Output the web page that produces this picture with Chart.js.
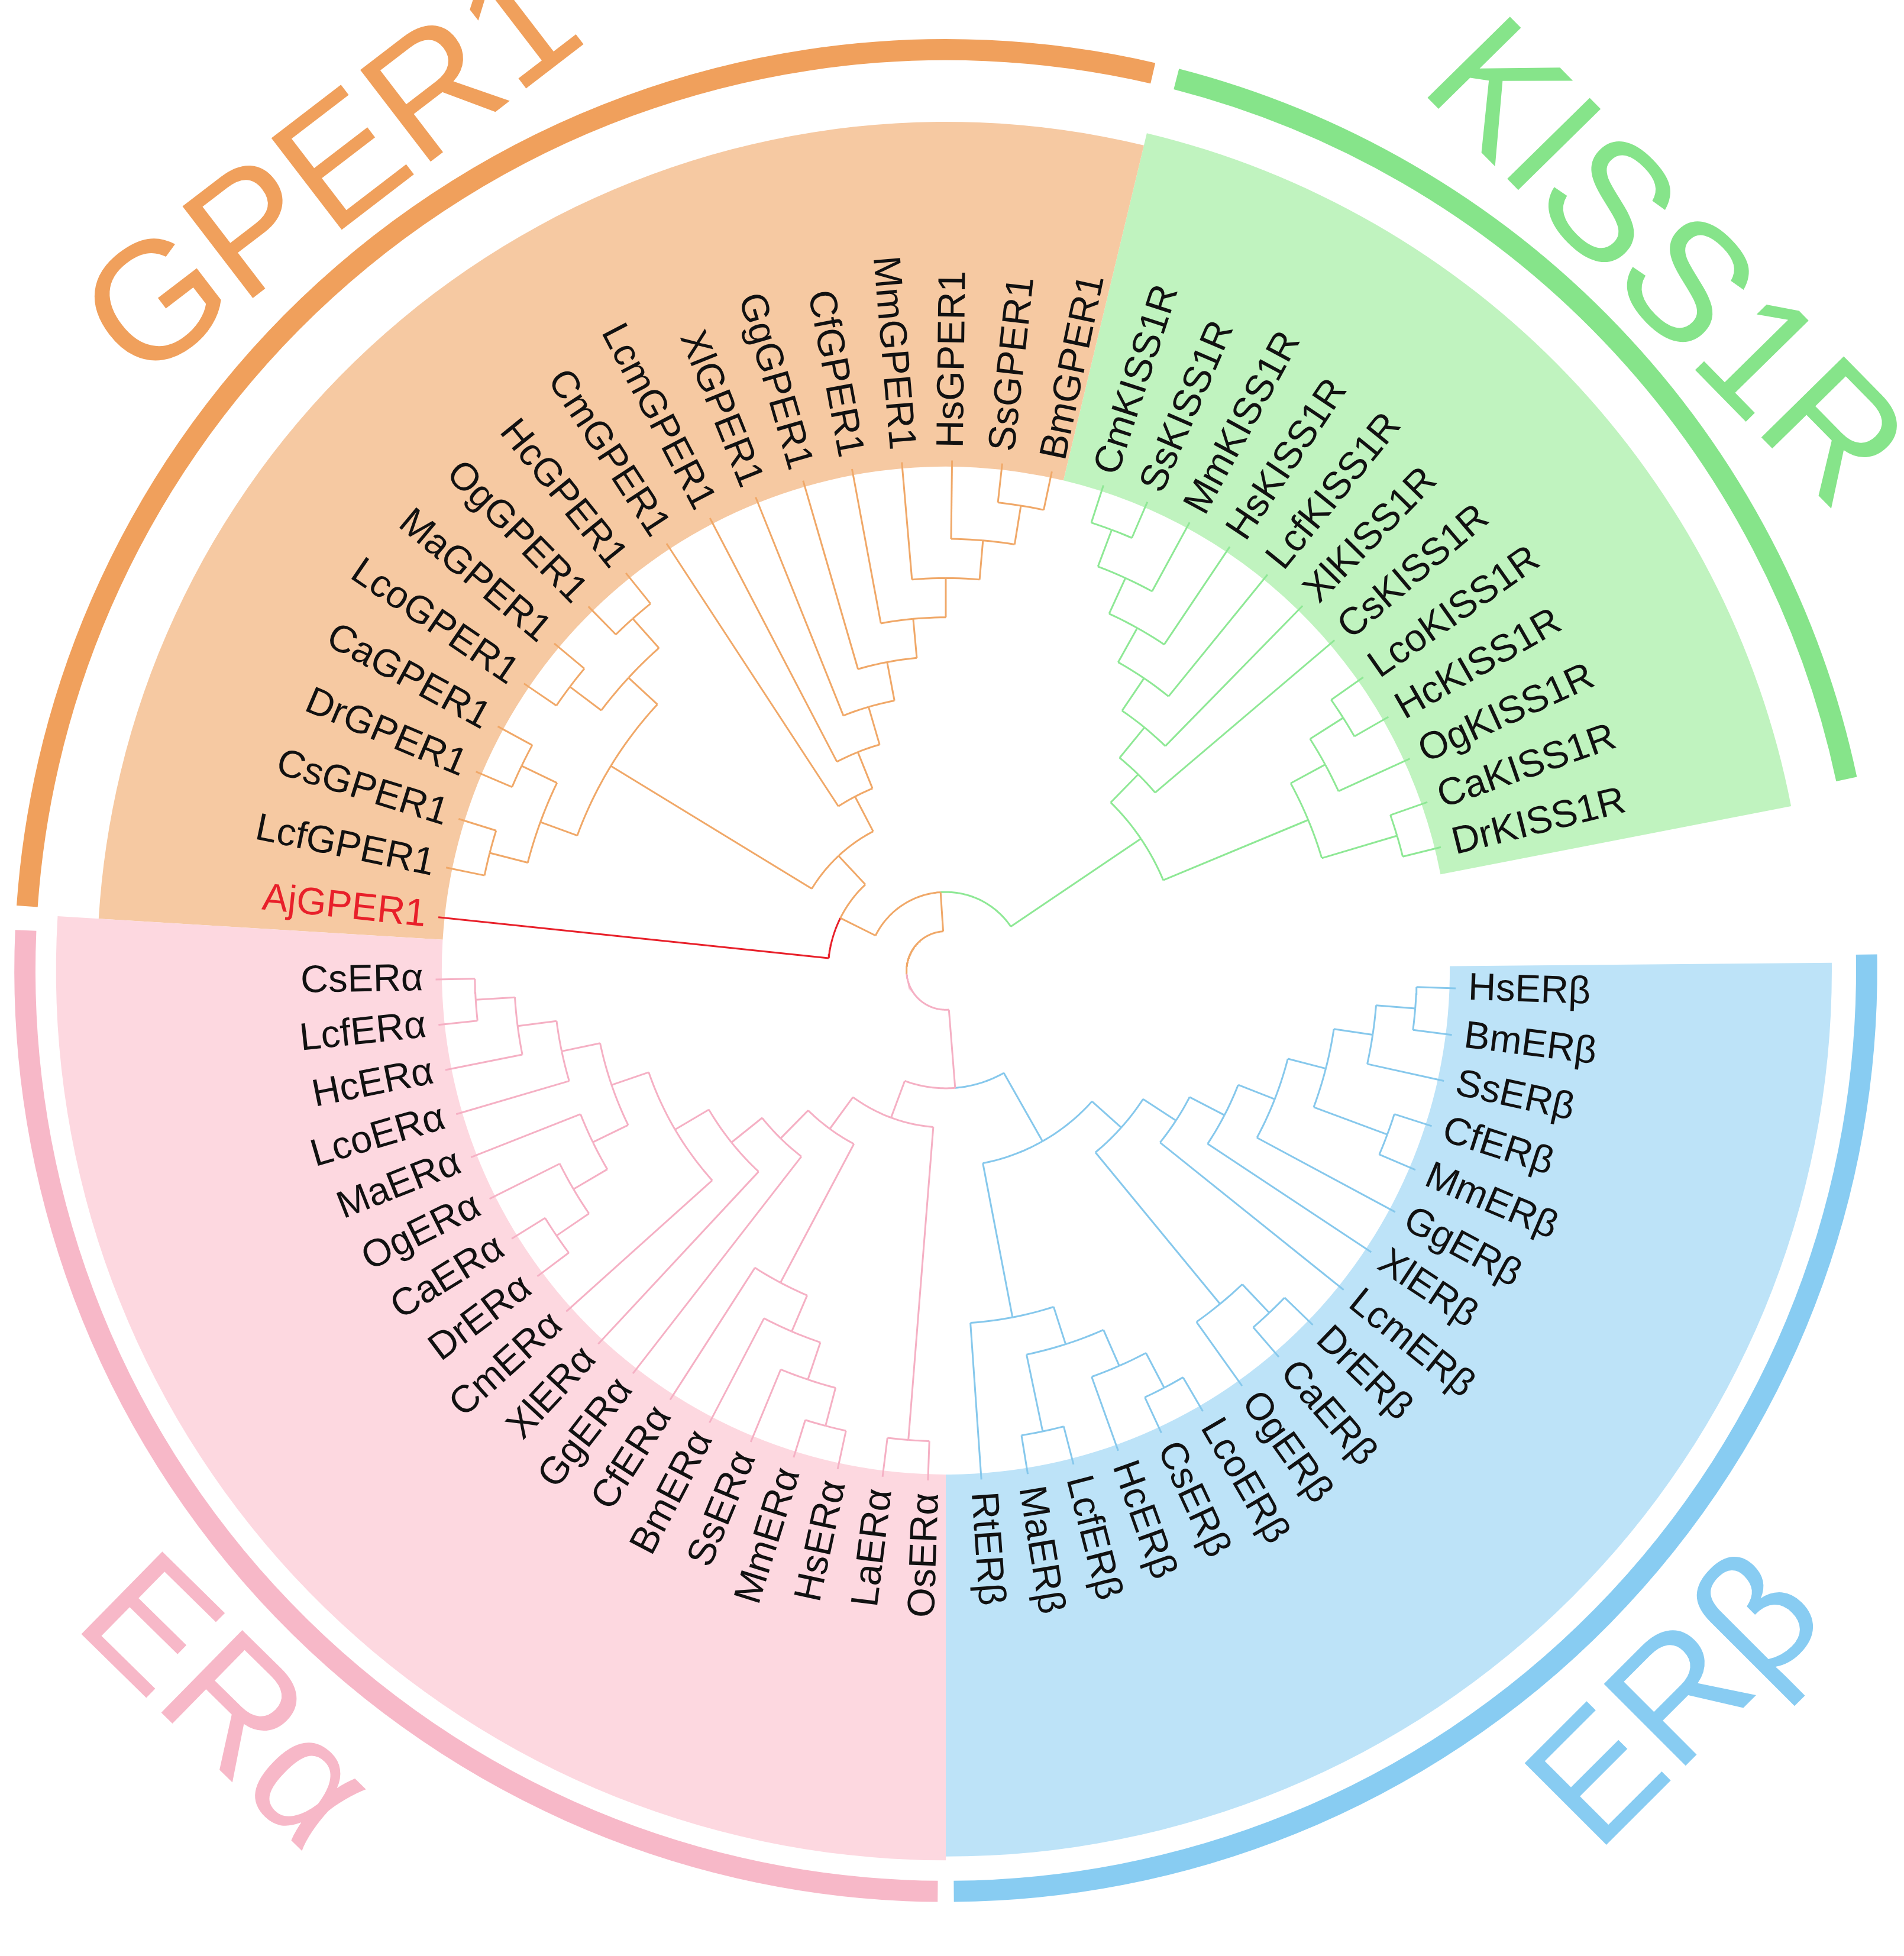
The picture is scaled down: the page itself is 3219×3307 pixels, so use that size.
<!DOCTYPE html>
<html>
<head>
<meta charset="utf-8">
<script src="https://cdn.jsdelivr.net/npm/chart.js@4"></script>
<style>
  html, body { margin: 0; padding: 0; background: #fff; }
  #wrap { width: 3219px; height: 3307px; }
</style>
</head>
<body>
<div id="wrap"><canvas id="myChart"></canvas></div>
<script>
// Leaf order of each clade (counter-clockwise)
var kissLeaves = ['DrKISS1R','CaKISS1R','OgKISS1R','HcKISS1R','LcoKISS1R','CsKISS1R','XlKISS1R','LcfKISS1R','HsKISS1R','MmKISS1R','SsKISS1R','CmKISS1R'];
var gperLeaves = ['BmGPER1','SsGPER1','HsGPER1','MmGPER1','CfGPER1','GgGPER1','XlGPER1','LcmGPER1','CmGPER1','HcGPER1','OgGPER1','MaGPER1','LcoGPER1','CaGPER1','DrGPER1','CsGPER1','LcfGPER1','AjGPER1'];
var eraLeaves = ['CsERα','LcfERα','HcERα','LcoERα','MaERα','OgERα','CaERα','DrERα','CmERα','XlERα','GgERα','CfERα','BmERα','SsERα','MmERα','HsERα','LaERα','OsERα'];
var erbLeaves = ['RtERβ','MaERβ','LcfERβ','HcERβ','CsERβ','LcoERβ','OgERβ','CaERβ','DrERβ','LcmERβ','XlERβ','GgERβ','MmERβ','CfERβ','SsERβ','BmERβ','HsERβ'];

// Tree topology (nested pairs)
var kissTree = [[['DrKISS1R','CaKISS1R'],['OgKISS1R',['HcKISS1R','LcoKISS1R']]],['CsKISS1R',['XlKISS1R',['LcfKISS1R',['HsKISS1R',['MmKISS1R',['SsKISS1R','CmKISS1R']]]]]]];
var gperTetra = [[[[[[[['BmGPER1','SsGPER1'],'HsGPER1'],'MmGPER1'],'CfGPER1'],'GgGPER1'],'XlGPER1'],'LcmGPER1'],'CmGPER1'];
var gperFish = [[['HcGPER1','OgGPER1'],['MaGPER1','LcoGPER1']],[['CaGPER1','DrGPER1'],['CsGPER1','LcfGPER1']]];
var gperTree = [[gperTetra, gperFish], 'AjGPER1'];
var eraFish = [[[['CsERα','LcfERα'],'HcERα'],'LcoERα'],['MaERα',['OgERα',['CaERα','DrERα']]]];
var eraTetra = ['CfERα',['BmERα',['SsERα',['MmERα','HsERα']]]];
var eraTree = [[[[[eraFish,'CmERα'],'XlERα'],'GgERα'],eraTetra],['LaERα','OsERα']];
var erbA = ['RtERβ',[['MaERβ','LcfERβ'],['HcERβ',['CsERβ','LcoERβ']]]];
var erbB = [['OgERβ',['CaERβ','DrERβ']],['LcmERβ',['XlERβ',['GgERβ',[['MmERβ','CfERβ'],['SsERβ',['BmERβ','HsERβ']]]]]]];
var erbTree = [erbA, erbB];
var rootTree = [[kissTree, gperTree], [eraTree, erbTree]];

var highlight = 'AjGPER1';

// Layout / style
var clades = [
  {leaves: kissLeaves, a0: 14, a1: 72, line: '#8ee895', fill: '#c0f3bf', ring: '#86e48a', title: 'KISS1R', tA: 44.5, tR: 805, ringA: [12, 75.5], wedge: [11, 76.5, 692]},
  {leaves: gperLeaves, a0: 78, a1: 174, line: '#f0a868', fill: '#f6c9a2', ring: '#f0a05c', title: 'GPER1', tA: 127.5, tR: 805, ringA: [77, 176], wedge: [76.5, 176.5, 682]},
  {leaves: eraLeaves, a0: 181, a1: 268, line: '#f5b0c4', fill: '#fdd8e0', ring: '#f7b8c8', title: 'ERα', tA: 225.5, tR: 830, ringA: [177.5, 269.5], wedge: [176.5, 270, 715]},
  {leaves: erbLeaves, a0: 274, a1: 358, line: '#86c8ec', fill: '#bde3f8', ring: '#88ccf2', title: 'ERβ', tA: 315, tR: 835, ringA: [270.5, 361], wedge: [270, 360.5, 712]}
];
var R_TIP = 410, R_LAB = 420, R_IN = 405, R_RING = 740;

var leafAngle = {}, leafClade = {};
clades.forEach(function (c, ci) {
  var step = (c.a1 - c.a0) / (c.leaves.length - 1);
  c.leaves.forEach(function (n, i) { leafAngle[n] = c.a0 + i * step; leafClade[n] = ci; });
});

function rad(d) { return d * Math.PI / 180; }
function pol(r, a) { return {x: r * Math.cos(rad(a)), y: r * Math.sin(rad(a))}; }

// compute node info
function info(node) {
  if (typeof node === 'string') return {leaf: node, angle: leafAngle[node], h: 0, clades: [leafClade[node]], kids: []};
  var kids = node.map(info);
  var h = Math.max.apply(null, kids.map(function (k) { return k.h; })) + 1;
  var cl = [];
  kids.forEach(function (k) { k.clades.forEach(function (c) { if (cl.indexOf(c) < 0) cl.push(c); }); });
  return {angle: (kids[0].angle + kids[kids.length - 1].angle) / 2, h: h, clades: cl, kids: kids};
}
var root = info(rootTree);
var stepR = R_TIP / (root.h + 1);
function radiusOf(n) { return n.leaf ? R_TIP : R_TIP - n.h * stepR; }
function colorOf(n) {
  if (n.leaf === highlight) return '#e8202a';
  if (n.clades.length === 1) return clades[n.clades[0]].line;
  return n.clades.indexOf(1) >= 0 ? clades[1].line : clades[2].line;
}

var datasets = [];
function seg(pts, color) {
  datasets.push({data: pts, showLine: true, borderColor: color, borderWidth: 3, pointRadius: 0, fill: false, tension: 0});
}
function walk(n) {
  var r = radiusOf(n);
  n.kids.forEach(function (k) {
    var col = colorOf(k);
    var a0 = n.angle, a1 = k.angle, pts = [];
    var steps = Math.max(2, Math.ceil(Math.abs(a1 - a0)));
    for (var i = 0; i <= steps; i++) pts.push(pol(r, a0 + (a1 - a0) * i / steps));
    seg(pts, col);
    seg([pol(r, k.angle), pol(radiusOf(k), k.angle)], col);
    walk(k);
  });
}
walk(root);

var decor = {
  id: 'decor',
  beforeDatasetsDraw: function (chart) {
    var ctx = chart.ctx, xs = chart.scales.x, ys = chart.scales.y;
    var cx = xs.getPixelForValue(0), cy = ys.getPixelForValue(0);
    var k = xs.getPixelForValue(1) - cx;
    ctx.save();
    clades.forEach(function (c) {
      var w = c.wedge;
      ctx.beginPath();
      ctx.arc(cx, cy, w[2] * k, -rad(w[0]), -rad(w[1]), true);
      ctx.arc(cx, cy, R_IN * k, -rad(w[1]), -rad(w[0]), false);
      ctx.closePath();
      ctx.fillStyle = c.fill;
      ctx.fill();
      ctx.beginPath();
      ctx.arc(cx, cy, R_RING * k, -rad(c.ringA[0]), -rad(c.ringA[1]), true);
      ctx.lineWidth = 17 * k;
      ctx.strokeStyle = c.ring;
      ctx.stroke();
    });
    ctx.restore();
  },
  afterDatasetsDraw: function (chart) {
    var ctx = chart.ctx, xs = chart.scales.x, ys = chart.scales.y;
    var cx = xs.getPixelForValue(0), cy = ys.getPixelForValue(0);
    var k = xs.getPixelForValue(1) - cx;
    ctx.save();
    ctx.font = Math.round(31 * k) + 'px "Liberation Sans", Arial, sans-serif';
    ctx.textBaseline = 'middle';
    Object.keys(leafAngle).forEach(function (n) {
      var a = leafAngle[n];
      ctx.save();
      ctx.translate(cx, cy);
      ctx.rotate(-rad(a));
      ctx.fillStyle = n === highlight ? '#e8202a' : '#111';
      if (a > 90 && a < 270) {
        ctx.rotate(Math.PI);
        ctx.textAlign = 'right';
        ctx.fillText(n, -R_LAB * k, 0);
      } else {
        ctx.textAlign = 'left';
        ctx.fillText(n, R_LAB * k, 0);
      }
      ctx.restore();
    });
    ctx.font = Math.round(135 * k) + 'px "Liberation Sans", Arial, sans-serif';
    ctx.textAlign = 'center';
    clades.forEach(function (c) {
      var p = pol(c.tR, c.tA);
      var rot = c.tA < 180 ? 90 - c.tA : 270 - c.tA;
      ctx.save();
      ctx.translate(xs.getPixelForValue(p.x), ys.getPixelForValue(p.y));
      ctx.rotate(rad(rot));
      ctx.fillStyle = c.ring;
      ctx.fillText(c.title, 0, 0);
      ctx.restore();
    });
    ctx.restore();
  }
};

var ctx = document.getElementById('myChart').getContext('2d');
var myChart = new Chart(ctx, {
  type: 'scatter',
  data: { datasets: datasets },
  options: {
    responsive: true,
    maintainAspectRatio: false,
    animation: false,
    devicePixelRatio: 1,
    layout: { padding: 0 },
    scales: {
      x: { type: 'linear', min: -760, max: 770, display: false },
      y: { type: 'linear', min: -792, max: 780, display: false }
    },
    plugins: { legend: { display: false }, tooltip: { enabled: false } }
  },
  plugins: [decor]
});
</script>
</body>
</html>
